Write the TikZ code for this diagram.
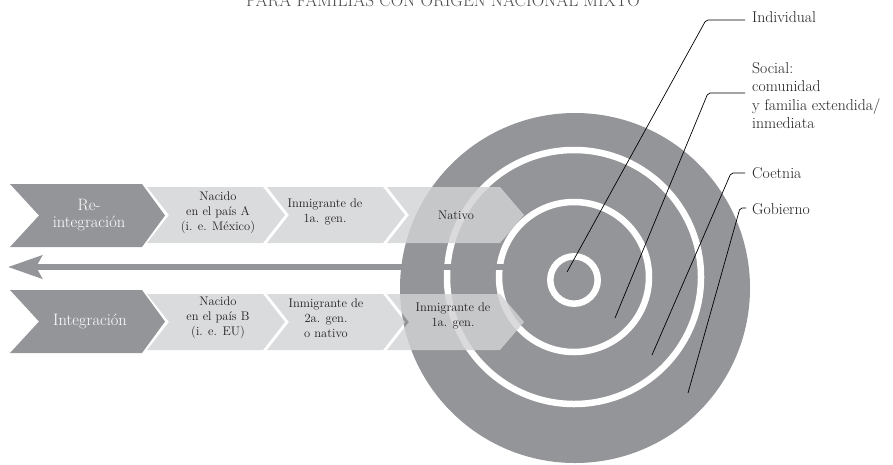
\documentclass[tikz,border=0pt]{standalone}
\usetikzlibrary{arrows.meta}
\definecolor{discgray}{RGB}{147,149,152}
\definecolor{chevlight}{RGB}{210,211,213}
\definecolor{txtgray}{RGB}{35,31,32}
\begin{document}
\begin{tikzpicture}[x=1pt,y=-1pt,
  darkchev/.style={fill=discgray},
  lightchev/.style={fill=chevlight, fill opacity=0.82},
  ringline/.style={draw=white, line width=6.5pt},
  leader/.style={draw=black, line width=0.7pt, rounded corners=2pt},
  lbl/.style={font=\fontsize{15.7}{18.5}\selectfont, text=txtgray, inner sep=0pt, align=left},
  darktxt/.style={font=\fontsize{16.5}{17}\selectfont, text=white, align=center, inner sep=0pt},
  lighttxt/.style={font=\fontsize{12.5}{15}\selectfont, text=txtgray, align=center, inner sep=0pt},
]
\useasboundingbox (0,0) rectangle (893,464);
\clip (0,0) rectangle (893,464);

% title (cut off at top, as in the reference)
\node[anchor=base, font=\fontsize{17.3}{20}\selectfont, text=txtgray!80, inner sep=0pt] (title) at (443,6) {PARA FAMILIAS CON ORIGEN NACIONAL MIXTO};

% target disc and rings
\fill[discgray] (575,288) circle[radius=175];
\draw[ringline] (574,277) circle[radius=127];
\draw[ringline] (574,277) circle[radius=75];
\draw[ringline] (574,280) circle[radius=23.7];

% arrow
\coordinate (arrowstart) at (512,267);
\coordinate (arrowend) at (8,267);
\draw[discgray, line width=6pt, -{Stealth[length=34pt,width=23pt,inset=6pt]}] (arrowstart) -- (arrowend);

% row 1 chevrons
\fill[darkchev] (10,184) -- (142,184) -- (165,215.5) -- (142,247) -- (10,247) -- (39,215.5) -- cycle;
\fill[lightchev] (147,187) -- (263,187) -- (285,215) -- (263,243) -- (147,243) -- (169,215) -- cycle;
\fill[lightchev] (267,187) -- (383,187) -- (405,215) -- (383,243) -- (267,243) -- (289,215) -- cycle;
\fill[lightchev] (387,187) -- (500,187) -- (524,215) -- (500,243) -- (387,243) -- (409,215) -- cycle;

% row 2 chevrons
\fill[darkchev] (10,290) -- (142,290) -- (165,321.5) -- (142,353) -- (10,353) -- (39,321.5) -- cycle;
\fill[lightchev] (147,294) -- (263,294) -- (285,322) -- (263,350) -- (147,350) -- (169,322) -- cycle;
\fill[lightchev] (267,294) -- (383,294) -- (405,322) -- (383,350) -- (267,350) -- (289,322) -- cycle;
\fill[lightchev] (387,294) -- (500,294) -- (524,322) -- (500,350) -- (387,350) -- (409,322) -- cycle;

% chevron texts
\node[darktxt] (reint) at (89,215.5) {Re-\\integración};
\node[darktxt] (integ) at (90,321.5) {Integración};
\node[lighttxt] (nacA) at (218,213) {Nacido\\en el país A\\(i. e. México)};
\node[lighttxt] (inm1) at (325,212) {Inmigrante de\\1a. gen.};
\node[lighttxt] (nativo) at (456,215) {Nativo};
\node[lighttxt] (nacB) at (218,318) {Nacido\\en el país B\\(i. e. EU)};
\node[lighttxt] (inm2) at (326,318) {Inmigrante de\\2a. gen.\\o nativo};
\node[lighttxt] (inm3) at (453,316) {Inmigrante de\\1a. gen.};

% right labels
\node[lbl, anchor=base west] (indiv) at (752,22) {Individual};
\node[lbl, anchor=north west] (social) at (752,62) {Social:\\comunidad\\y familia extendida/\\inmediata};
\node[lbl, anchor=base west] (coet) at (752,178) {Coetnia};
\node[lbl, anchor=base west] (gob) at (752,214) {Gobierno};

% leader lines
\coordinate (pInd) at (567,272);
\coordinate (cInd) at (706,20);
\coordinate (eInd) at (745,20);
\coordinate (pSoc) at (615,318);
\coordinate (cSoc) at (708,93);
\coordinate (eSoc) at (745,93);
\coordinate (pCoe) at (652,355);
\coordinate (cCoe) at (731,173);
\coordinate (eCoe) at (745,173);
\coordinate (pGob) at (688,393);
\coordinate (cGob) at (740,208);
\coordinate (eGob) at (746,208);
\draw[leader] (pInd) -- (cInd) -- (eInd);
\draw[leader] (pSoc) -- (cSoc) -- (eSoc);
\draw[leader] (pCoe) -- (cCoe) -- (eCoe);
\draw[leader] (pGob) -- (cGob) -- (eGob);
\end{tikzpicture}
\end{document}
